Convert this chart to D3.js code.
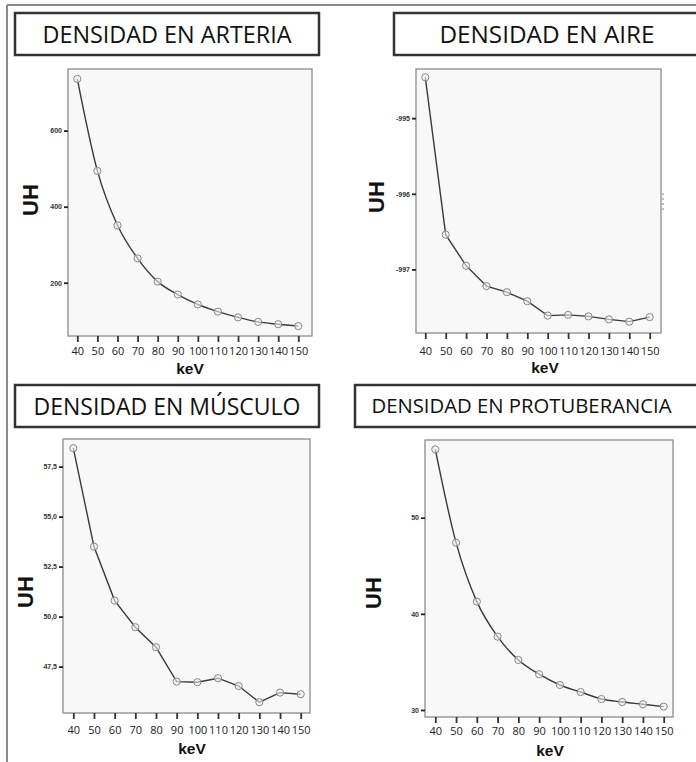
<!DOCTYPE html>
<html>
<head>
<meta charset="utf-8">
<script src="https://cdn.jsdelivr.net/npm/d3@7"></script>
<style>
  body { margin: 0; background: #fff; }
  svg { display: block; }
  .title { font-family: "Open Sans", sans-serif; fill: #111; }
  .xtick text { font-family: "Open Sans", sans-serif; font-size: 11px; fill: #222; }
  .ytick text { font-family: "Liberation Sans", Arial, sans-serif; font-size: 7px; font-weight: bold; fill: #333; }
  .axlabel { font-family: "Liberation Sans", Arial, sans-serif; font-weight: bold; fill: #111; }
</style>
</head>
<body>
<div id="chart"></div>
<script>
// values (UH per keV)
let kev = [40, 50, 60, 70, 80, 90, 100, 110, 120, 130, 140, 150];
let arteria = [736, 494, 351, 264, 203, 169, 143, 124, 109, 97, 91, 86];
let aire = [-994.46, -996.54, -996.95, -997.22, -997.30, -997.42, -997.61, -997.60, -997.62, -997.66, -997.69, -997.63];
let musculo = [58.42, 53.5, 50.8, 49.47, 48.47, 46.75, 46.72, 46.92, 46.53, 45.72, 46.2, 46.12];
let protuberancia = [57.11, 47.4, 41.27, 37.63, 35.2, 33.72, 32.6, 31.87, 31.14, 30.83, 30.6, 30.35];

let titles = ["DENSIDAD EN ARTERIA", "DENSIDAD EN AIRE", "DENSIDAD EN MÚSCULO", "DENSIDAD EN PROTUBERANCIA"];
let arteriaTicks = [200, 400, 600];
let aireTicks = [-997, -996, -995];
let musculoTicks = [47.5, 50, 52.5, 55, 57.5];
let protuberanciaTicks = [30, 40, 50];

let width = 696, height = 762;

let svg = d3.select("#chart")
    .append("svg")
    .attr("width", width)
    .attr("height", height);

// outer frame (only left and top show)
svg.append("line").attr("x1", 7).attr("y1", 5).attr("x2", 7).attr("y2", height)
    .attr("stroke", "#8a8a8a").attr("stroke-width", 2);
svg.append("line").attr("x1", 7).attr("y1", 5).attr("x2", width).attr("y2", 5)
    .attr("stroke", "#8a8a8a").attr("stroke-width", 2);

let comma = d3.formatLocale({decimal: ",", thousands: ".", grouping: [3], currency: ["", "€"], minus: "-"});

let panels = [
  {title: titles[0], values: arteria, ticks: arteriaTicks, fmt: comma.format("d"), smooth: true,
   box: [15, 13, 304, 42], tsize: 24, tlen: 249,
   plot: [68, 69, 244, 267], xr: [9.3, 230.3], yd: [60, 762],
   uh: [30, 200], kevPos: [190, 368], tickY: 352},
  {title: titles[1], values: aire, ticks: aireTicks, fmt: comma.format("d"), smooth: false,
   box: [394, 13, 306, 42], tsize: 24, tlen: 215,
   plot: [416, 69, 245, 264], xr: [9.3, 233.7], yd: [-997.84, -994.35],
   uh: [376, 197], kevPos: [545, 367], tickY: 352},
  {title: titles[2], values: musculo, ticks: musculoTicks, fmt: comma.format(".1f"), smooth: false,
   box: [15, 385, 304, 42], tsize: 24, tlen: 267,
   plot: [63, 439, 247, 274], xr: [10.3, 237.7], yd: [45.18, 58.88],
   uh: [25, 592], kevPos: [192, 748], tickY: 731},
  {title: titles[3], values: protuberancia, ticks: protuberanciaTicks, fmt: comma.format("d"), smooth: true,
   box: [355, 385, 345, 42], tsize: 20, tlen: 300,
   plot: [425, 440, 248, 277], xr: [10.3, 238.7], yd: [29.27, 58.08],
   uh: [373, 593], kevPos: [550, 750], tickY: 732}
];

// Draw one panel
function drawPanel(p) {
  // title box
  svg.append("rect")
    .attr("x", p.box[0]).attr("y", p.box[1])
    .attr("width", p.box[2]).attr("height", p.box[3])
    .attr("fill", "#fff").attr("stroke", "#333").attr("stroke-width", 2.5);
  svg.append("text")
    .attr("class", "title")
    .attr("x", p.box[0] + p.box[2] / 2 - (p.box[2] > 320 ? 6 : 0))
    .attr("y", p.box[1] + p.box[3] / 2)
    .attr("dy", "0.36em")
    .attr("text-anchor", "middle")
    .attr("font-size", p.tsize)
    .attr("textLength", p.tlen)
    .attr("lengthAdjust", "spacingAndGlyphs")
    .text(p.title);

  let g = svg.append("g").attr("transform", `translate(${p.plot[0]},${p.plot[1]})`);
  let w = p.plot[2], h = p.plot[3];

  let x = d3.scaleLinear().domain([40, 150]).range(p.xr);
  let y = d3.scaleLinear().domain(p.yd).range([h, 0]);

  g.append("rect").attr("width", w).attr("height", h)
    .attr("fill", "#f8f8f8").attr("stroke", "#8c8c8c").attr("stroke-width", 1.3);

  // x axis
  let xa = g.append("g").attr("class", "xtick")
    .attr("transform", `translate(0,${h})`)
    .call(d3.axisBottom(x).tickValues(kev).tickSize(6).tickPadding(p.tickY - p.plot[1] - h - 11));
  xa.select(".domain").remove();
  xa.selectAll("line").attr("stroke", "#333").attr("stroke-width", 1.8);

  // y axis
  let ya = g.append("g").attr("class", "ytick")
    .call(d3.axisLeft(y).tickValues(p.ticks).tickFormat(p.fmt).tickSize(4).tickPadding(2));
  ya.select(".domain").remove();
  ya.selectAll("line").attr("stroke", "#222").attr("stroke-width", 1.8);

  let line = d3.line()
    .x((d, i) => x(kev[i]))
    .y(d => y(d))
    .curve(p.smooth ? d3.curveMonotoneX : d3.curveLinear);

  g.append("path").datum(p.values)
    .attr("d", line)
    .attr("fill", "none")
    .attr("stroke", "#3a3a3a")
    .attr("stroke-width", 1.4);

  g.selectAll("circle").data(p.values).enter()
    .append("circle")
    .attr("cx", (d, i) => x(kev[i]))
    .attr("cy", d => y(d))
    .attr("r", 3.6)
    .attr("fill", "#eee")
    .attr("fill-opacity", 0.6)
    .attr("stroke", "#888")
    .attr("stroke-width", 1);

  // axis titles
  svg.append("text").attr("class", "axlabel")
    .attr("text-anchor", "middle")
    .attr("font-size", 22)
    .attr("transform", `translate(${p.uh[0]},${p.uh[1]})rotate(-90)`)
    .attr("dy", "0.36em")
    .text("UH");
  svg.append("text").attr("class", "axlabel")
    .attr("text-anchor", "middle")
    .attr("font-size", 15.5)
    .attr("x", p.kevPos[0]).attr("y", p.kevPos[1])
    .attr("dy", "0.36em")
    .text("keV");
}

panels.forEach(drawPanel);

// small dotted mark to the right of the air plot
svg.append("line").attr("x1", 663).attr("y1", 193).attr("x2", 663).attr("y2", 211)
  .attr("stroke", "#aaa").attr("stroke-width", 1.5).attr("stroke-dasharray", "2,3");
</script>
</body>
</html>
